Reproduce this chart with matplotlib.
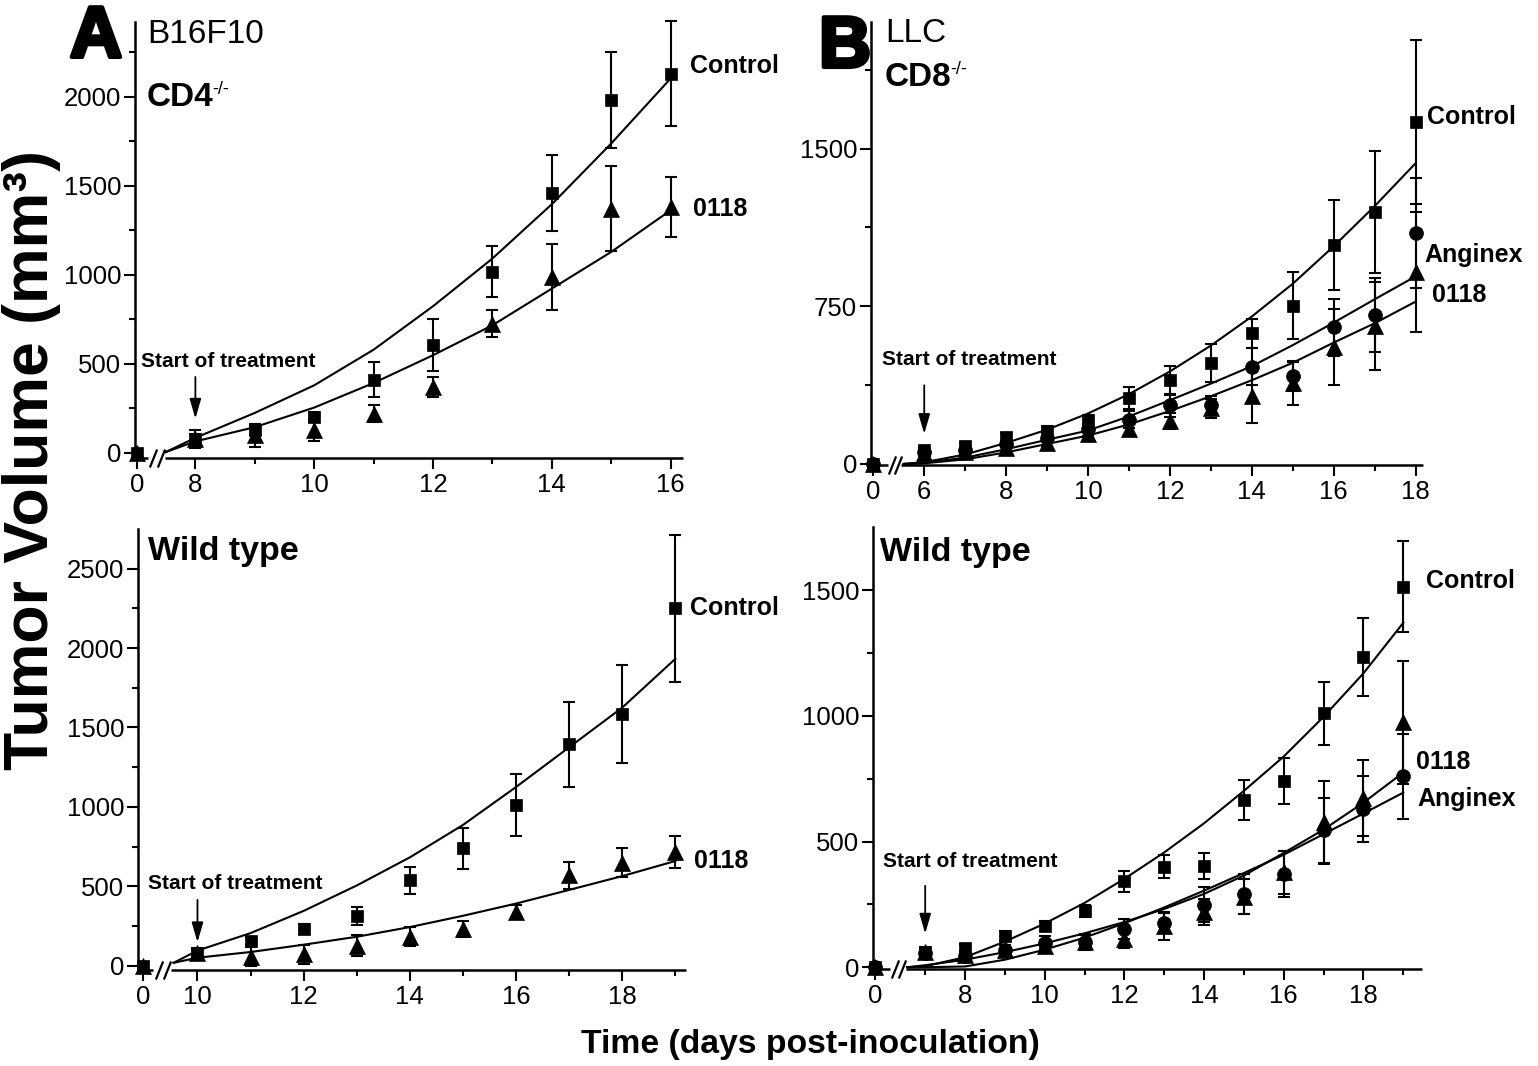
import numpy as np
import matplotlib
matplotlib.use("Agg")
import matplotlib.pyplot as plt
import matplotlib.patheffects as pe
from matplotlib.path import Path
from matplotlib.ticker import FixedLocator, NullFormatter

plt.rcParams["font.family"] = ["Liberation Sans", "DejaVu Sans"]

# ---- A top: B16F10, CD4-/- ----
a_days = [0, 8, 9, 10, 11, 12, 13, 14, 15, 16]
a_ctrl = [0, 80, 127, 202, 412, 605, 1017, 1461, 1981, 2131]
a_ctrl_err = [0, 25, 25, 30, 97, 145, 143, 212, 270, 293]
a_0118 = [0, 80, 100, 130, 221, 371, 727, 989, 1373, 1382]
a_0118_err = [0, 50, 65, 62, 47, 55, 78, 187, 240, 168]
a_fit_days = [7.5, 8, 9, 10, 11, 12, 13, 14, 15, 16]
a_ctrl_fit = [5, 85, 225, 380, 580, 824, 1092, 1397, 1738, 2103]
a_0118_fit = [5, 65, 145, 255, 393, 549, 717, 923, 1129, 1363]

# ---- B top: LLC, CD8-/- ----
b_days = [0, 6, 7, 8, 9, 10, 11, 12, 13, 14, 15, 16, 17, 18]
b_ctrl = [0, 64, 83, 127, 159, 210, 315, 398, 481, 621, 752, 1040, 1199, 1627]
b_ctrl_err = [0, 15, 15, 20, 20, 25, 53, 68, 90, 68, 160, 215, 290, 390]
b_ang = [0, 58, 68, 95, 125, 165, 210, 279, 280, 462, 417, 650, 709, 1099]
b_ang_err = [0, 10, 12, 15, 20, 30, 40, 55, 45, 88, 70, 135, 175, 260]
b_0118 = [0, 52, 58, 78, 100, 143, 167, 204, 265, 322, 385, 557, 656, 911]
b_0118_err = [0, 10, 12, 15, 20, 30, 35, 40, 45, 128, 105, 180, 210, 285]
b_fit_days = [5.5, 6, 7, 8, 9, 10, 11, 12, 13, 14, 15, 16, 17, 18]
b_ctrl_fit = [0, 8, 45, 100, 163, 240, 332, 440, 563, 701, 857, 1035, 1226, 1430]
b_ang_fit = [0, 5, 30, 70, 115, 159, 226, 303, 382, 465, 565, 672, 783, 892]
b_0118_fit = [0, 3, 22, 55, 95, 135, 188, 252, 322, 398, 481, 577, 669, 772]

# ---- A bottom: B16F10 wild type ----
c_days = [0, 10, 11, 12, 13, 14, 15, 16, 17, 18, 19]
c_ctrl = [0, 80, 155, 232, 314, 539, 739, 1011, 1393, 1586, 2250]
c_ctrl_err = [0, 20, 25, 30, 57, 85, 128, 195, 265, 310, 465]
c_0118 = [0, 80, 57, 73, 125, 182, 232, 341, 568, 648, 716]
c_0118_err = [0, 30, 60, 60, 65, 60, 50, 40, 85, 90, 100]
c_fit_days = [9.55, 10, 11, 12, 13, 14, 15, 16, 17, 18, 19]
c_ctrl_fit = [18, 95, 205, 345, 505, 682, 886, 1125, 1375, 1625, 1932]
c_0118_fit = [18, 50, 86, 132, 182, 243, 314, 391, 477, 564, 659]

# ---- B bottom: LLC wild type ----
d_days = [0, 7, 8, 9, 10, 11, 12, 13, 14, 15, 16, 17, 18, 19]
d_ctrl = [0, 62, 76, 124, 163, 224, 342, 400, 403, 666, 741, 1011, 1234, 1515]
d_ctrl_err = [0, 15, 15, 20, 20, 25, 42, 45, 52, 80, 90, 125, 155, 180]
d_0118 = [0, 60, 50, 70, 85, 100, 112, 163, 220, 281, 378, 577, 673, 975]
d_0118_err = [0, 20, 15, 20, 25, 30, 35, 55, 50, 70, 85, 165, 150, 245]
d_ang = [0, 55, 45, 69, 98, 102, 151, 177, 249, 292, 371, 545, 630, 760]
d_ang_err = [0, 15, 15, 20, 25, 30, 40, 40, 70, 80, 90, 130, 130, 170]
d_fit_days = [6.55, 7, 8, 9, 10, 11, 12, 13, 14, 15, 16, 17, 18, 19]
d_ctrl_fit = [0, 4, 40, 102, 174, 256, 352, 457, 573, 702, 839, 997, 1170, 1371]
d_0118_fit = [0, 8, 30, 60, 95, 135, 180, 232, 292, 365, 455, 548, 655, 775]
d_ang_fit = [0, 0, 3, 30, 70, 118, 175, 238, 305, 375, 448, 530, 612, 695]

SPINE = 1.8
SLASH = Path([(-0.4, -1.0), (0.4, 1.0)], [Path.MOVETO, Path.LINETO])
MARK = {"s": 9, "^": 11, "o": 10}


def broken_axis(ax, x1, gap, seg_u, left_end, xlim, ylim, major, minor, ymaj, ymin):
    # piecewise x scale: day 0 on its own, then a "//" break, then linear days
    xs = x1 - gap + seg_u
    d = [-100.0, seg_u, xs, 200.0]
    u = [-100.0, seg_u, seg_u + 1e-3, 200.0 - xs + seg_u + 1e-3]
    ax.set_xscale("function", functions=(lambda x: np.interp(x, d, u),
                                         lambda v: np.interp(v, u, d)))
    ax.set_xlim(*xlim)
    ax.set_ylim(*ylim)
    ax.xaxis.set_major_locator(FixedLocator(major))
    ax.xaxis.set_minor_locator(FixedLocator(minor))
    ax.xaxis.set_major_formatter(plt.FuncFormatter(lambda v, p: f"{v:g}"))
    ax.xaxis.set_minor_formatter(NullFormatter())
    ax.yaxis.set_major_locator(FixedLocator(ymaj))
    ax.yaxis.set_minor_locator(FixedLocator(ymin))
    for s in ("top", "right", "bottom"):
        ax.spines[s].set_visible(False)
    ax.spines["left"].set_linewidth(SPINE)
    ax.tick_params(which="both", direction="out", width=1.5, labelsize=18.5)
    ax.tick_params(which="major", length=8)
    ax.tick_params(which="minor", length=4.5)
    ax.tick_params(axis="x", pad=3)
    ax.tick_params(axis="y", pad=2)
    xt = ax.get_xaxis_transform()
    kw = dict(transform=xt, color="k", lw=SPINE, clip_on=False, solid_capstyle="butt")
    ax.plot([xlim[0], left_end], [0, 0], **kw)
    ax.plot([seg_u, xlim[1]], [0, 0], **kw)
    s1 = left_end + (seg_u - left_end) * 0.3
    s2 = left_end + (seg_u - left_end) * 0.75
    ax.plot([s1, s2], [0, 0], transform=xt, ls="none", marker=SLASH, ms=13,
            mew=1.6, color="k", clip_on=False)


def series(ax, days, vals, err, marker):
    cont = ax.errorbar(days, vals, yerr=err, fmt="none", ecolor="k",
                       elinewidth=1.5, capsize=4, capthick=1.5)
    for art in list(cont.lines[1]) + list(cont.lines[2]):
        art.set_clip_on(False)
    ax.plot(days, vals, marker, ls="none", ms=MARK[marker], color="k",
            mew=0.5, clip_on=False, zorder=3)


def fit(ax, days, vals):
    ax.plot(days, vals, color="k", lw=1.5, zorder=2)


def start_note(ax, tx, ty, day, y0, y1):
    ax.text(tx, ty, "Start of treatment", fontsize=15, fontweight="bold",
            ha="left", va="center")
    ax.annotate("", xy=(day, y1), xytext=(day, y0),
                arrowprops=dict(arrowstyle="-|>,head_length=1.2,head_width=0.35",
                                color="k", lw=1.3, shrinkA=0, shrinkB=0))


def tag(ax, x, y, s):
    ax.text(x, y, s, fontsize=18, fontweight="bold", ha="left", va="center")


def strain(ax, x, y_top, y_bot, top, bottom):
    ax.text(x, y_top, top, transform=ax.transAxes, fontsize=24,
            ha="left", va="center")
    t = ax.text(x, y_bot, bottom, transform=ax.transAxes, fontsize=24,
                fontweight="bold", ha="left", va="center")
    ax.annotate("-/-", xy=(1, 1), xycoords=t, xytext=(-1, 1),
                textcoords="offset points", fontsize=13, ha="left", va="top")


fig = plt.figure(figsize=(15.38, 10.66), dpi=100)
ax_a = fig.add_axes([0.0878, 0.5704, 0.3563, 0.409])
ax_b = fig.add_axes([0.5663, 0.5638, 0.3589, 0.4156])
ax_c = fig.add_axes([0.0897, 0.0901, 0.3563, 0.4137])
ax_d = fig.add_axes([0.5676, 0.0910, 0.3570, 0.4146])

# A top
broken_axis(ax_a, 8, 0.98, 0.47, 0.19, (-0.035, 16.21), (-28, 2421),
            [0, 8, 10, 12, 14, 16], [9, 11, 13, 15],
            [0, 500, 1000, 1500, 2000], [250, 750, 1250, 1750, 2250])
fit(ax_a, a_fit_days, a_ctrl_fit)
fit(ax_a, a_fit_days, a_0118_fit)
series(ax_a, a_days, a_0118, a_0118_err, "^")
series(ax_a, a_days, a_ctrl, a_ctrl_err, "s")
start_note(ax_a, 0.07, 511, 8, 427, 193)
tag(ax_a, 16.33, 2174, "Control")
tag(ax_a, 16.38, 1371, "0118")
strain(ax_a, 0.022, 0.972, 0.826, "B16F10", "CD4")

# B top
broken_axis(ax_b, 6, 1.25, 0.68, 0.37, (-0.05, 18.18), (-5, 2102),
            [0, 6, 8, 10, 12, 14, 16, 18], [7, 9, 11, 13, 15, 17],
            [0, 750, 1500], [375, 1125, 1875])
fit(ax_b, b_fit_days, b_ctrl_fit)
fit(ax_b, b_fit_days, b_ang_fit)
fit(ax_b, b_fit_days, b_0118_fit)
series(ax_b, b_days, b_0118, b_0118_err, "^")
series(ax_b, b_days, b_ang, b_ang_err, "o")
series(ax_b, b_days, b_ctrl, b_ctrl_err, "s")
start_note(ax_b, 0.21, 497, 6, 374, 143)
tag(ax_b, 18.27, 1648, "Control")
tag(ax_b, 18.22, 994, "Anginex")
tag(ax_b, 18.4, 803, "0118")
strain(ax_b, 0.025, 0.973, 0.874, "LLC", "CD8")

# A bottom
broken_axis(ax_c, 10, 1.03, 0.54, 0.2, (-0.09, 19.2), (-27, 2750),
            [0, 10, 12, 14, 16, 18], [11, 13, 15, 17, 19],
            [0, 500, 1000, 1500, 2000, 2500], [250, 750, 1250, 1750, 2250])
fit(ax_c, c_fit_days, c_ctrl_fit)
fit(ax_c, c_fit_days, c_0118_fit)
series(ax_c, c_days, c_0118, c_0118_err, "^")
series(ax_c, c_days, c_ctrl, c_ctrl_err, "s")
start_note(ax_c, 0.1, 516, 10, 414, 148)
tag(ax_c, 19.28, 2250, "Control")
tag(ax_c, 19.35, 659, "0118")
ax_c.text(0.018, 0.948, "Wild type", transform=ax_c.transAxes, fontsize=24.5,
          fontweight="bold", ha="left", va="center")

# B bottom
broken_axis(ax_d, 7, 1.26, 0.79, 0.38, (-0.05, 19.47), (-7, 1752),
            [0, 8, 10, 12, 14, 16, 18], [7, 9, 11, 13, 15, 17, 19],
            [0, 500, 1000, 1500], [250, 750, 1250])
fit(ax_d, d_fit_days, d_ctrl_fit)
fit(ax_d, d_fit_days, d_0118_fit)
fit(ax_d, d_fit_days, d_ang_fit)
series(ax_d, d_days, d_0118, d_0118_err, "^")
series(ax_d, d_days, d_ang, d_ang_err, "o")
series(ax_d, d_days, d_ctrl, d_ctrl_err, "s")
start_note(ax_d, 0.19, 422, 7, 324, 134)
tag(ax_d, 19.57, 1537, "Control")
tag(ax_d, 19.32, 817, "0118")
tag(ax_d, 19.35, 669, "Anginex")
ax_d.text(0.013, 0.943, "Wild type", transform=ax_d.transAxes, fontsize=24.5,
          fontweight="bold", ha="left", va="center")

heavy = [pe.withStroke(linewidth=3, foreground="k")]
fig.text(0.0624, 0.9644, "A", fontsize=52, fontweight="bold", ha="center",
         va="center", path_effects=heavy)
fig.text(0.5494, 0.955, "B", fontsize=52, fontweight="bold", ha="center",
         va="center", path_effects=heavy)
fig.text(0.0208, 0.5685, "Tumor Volume (mm³)", fontsize=45, fontweight="bold",
         rotation=90, ha="center", va="center")
fig.text(0.527, 0.0197, "Time (days post-inoculation)", fontsize=24.3,
         fontweight="bold", ha="center", va="center")

fig.savefig("out.png", dpi=100)
